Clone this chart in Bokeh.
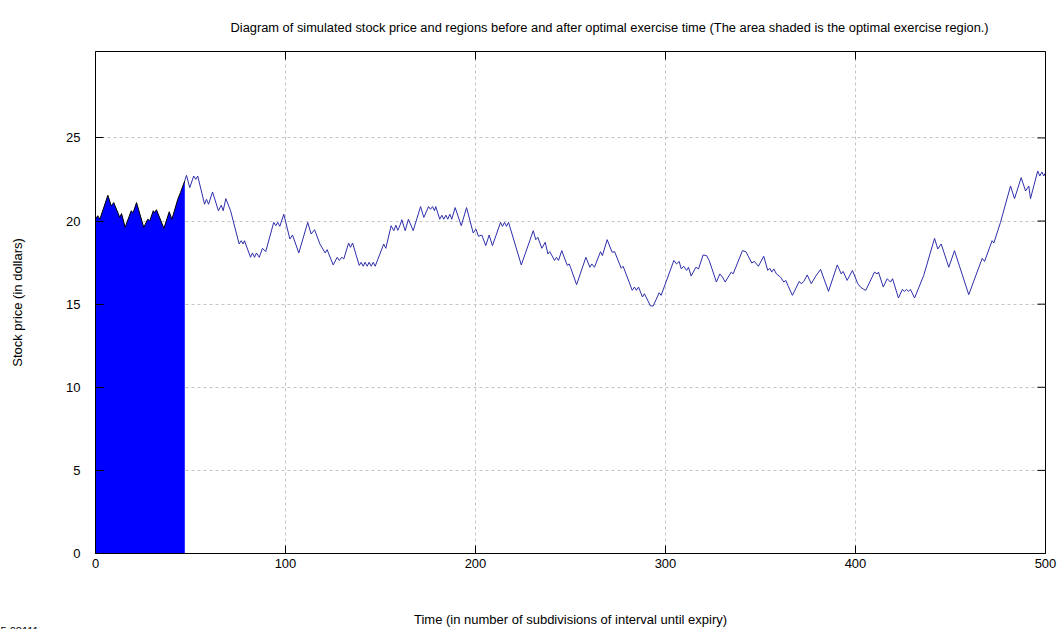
from math import pi

from bokeh.plotting import figure
from bokeh.models import FixedTicker, Range1d, Title
from bokeh.embed import file_html
from bokeh.resources import INLINE

# Simulated stock price path (time in subdivisions, price in dollars).
# Portion up to the optimal exercise time (shaded region).
exercise_t = [0, 1.2, 2.3, 6.5, 8.3, 9.6, 12.8, 13.7, 14.4, 15.6, 18.8, 19.8, 21.6,
              25.4, 27.5, 28.6, 30.4, 31.1, 32.1, 36.0, 38.8, 40.2, 43.3, 44.7, 47.0]
exercise_price = [20.11, 20.32, 20.11, 21.55, 20.91, 21.11, 20.22, 20.45, 20.16, 19.62,
                  20.62, 20.50, 21.11, 19.62, 20.11, 20.02, 20.62, 20.51, 20.68, 19.56,
                  20.56, 20.11, 21.31, 21.71, 22.43]

# Portion after the optimal exercise time.
path_t = [47.0, 47.9, 49.6, 51.7, 52.8, 53.8, 57.4, 58.4, 59.5, 61.6, 64.7, 66.2, 67.2,
          68.6, 71.1, 75.6, 76.7, 77.7, 78.4, 81.6, 82.6, 83.7, 84.7, 86.2, 87.9, 89.6,
          93.8, 94.9, 95.9, 97.0, 99.1, 102.3, 103.7, 107.0, 111.7, 113.5, 115.3, 118.1,
          120.9, 121.9, 125.1, 127.2, 128.3, 129.6, 130.7, 133.2, 134.2, 135.3, 138.8,
          139.8, 140.9, 141.9, 143.0, 144.0, 145.1, 146.2, 147.2, 151.7, 152.8, 155.6,
          157.0, 158.1, 159.1, 160.5, 161.2, 163.0, 164.7, 167.2, 171.1, 172.8, 175.3,
          176.3, 177.4, 178.4, 179.1, 181.2, 182.3, 183.3, 184.4, 185.4, 186.5, 187.5,
          189.3, 192.5, 195.3, 198.8, 200.2, 201.6, 203.3, 205.4, 207.2, 208.9, 213.2,
          214.2, 215.3, 216.3, 217.4, 224.1, 230.4, 231.7, 232.8, 234.9, 236.7, 238.1,
          239.1, 241.6, 242.6, 243.7, 245.4, 248.3, 249.3, 250.0, 253.2, 258.1, 260.2,
          261.2, 262.6, 265.8, 266.8, 269.3, 271.9, 273.2, 276.7, 277.7, 282.5, 283.7,
          284.7, 285.8, 287.9, 288.9, 292.1, 293.5, 296.7, 297.7, 304.4, 305.8, 307.2,
          308.3, 309.6, 311.1, 312.1, 313.5, 316.0, 317.4, 319.8, 321.6, 323.0, 326.8,
          328.6, 330.0, 331.4, 334.6, 335.6, 340.5, 342.3, 345.4, 346.8, 348.9, 351.7,
          353.8, 354.9, 355.9, 357.0, 358.4, 360.5, 362.3, 363.3, 364.4, 366.8, 370.4,
          371.4, 372.8, 374.6, 376.7, 379.1, 381.6, 385.8, 390.4, 392.5, 393.5, 395.6,
          398.4, 401.2, 402.6, 404.4, 405.4, 410.0, 411.4, 412.1, 414.6, 416.7, 418.4,
          419.5, 422.6, 424.7, 425.8, 426.8, 427.9, 428.9, 431.1, 435.9, 441.6, 443.3,
          445.1, 449.1, 452.1, 459.6, 466.7, 467.9, 471.9, 472.8, 476.3, 481.6, 483.7,
          487.2, 489.5, 491.2, 492.1, 495.9, 497.0, 498.1, 499.1, 500.0]
path_price = [22.43, 22.75, 22.01, 22.71, 22.51, 22.71, 21.01, 21.31, 21.01, 21.75, 20.62,
              20.95, 20.62, 21.35, 20.62, 18.62, 18.82, 18.62, 18.82, 17.82, 18.08, 17.82,
              18.08, 17.82, 18.36, 18.16, 19.92, 19.72, 19.92, 19.68, 20.41, 18.92, 19.16,
              18.08, 19.92, 19.22, 19.48, 18.62, 18.08, 18.28, 17.36, 17.82, 17.63, 17.82,
              17.72, 18.68, 18.42, 18.68, 17.33, 17.52, 17.28, 17.52, 17.28, 17.52, 17.28,
              17.52, 17.28, 18.62, 18.36, 19.72, 19.42, 19.75, 19.44, 19.81, 20.08, 19.42,
              20.11, 19.42, 20.87, 20.22, 20.87, 20.71, 20.87, 20.62, 20.87, 20.11, 20.35,
              20.11, 20.35, 20.11, 20.41, 20.11, 20.81, 19.72, 20.81, 19.28, 19.52, 19.08,
              19.16, 18.52, 19.16, 18.52, 19.92, 19.68, 19.92, 19.68, 19.92, 17.36, 19.42,
              18.88, 19.02, 18.36, 18.72, 18.02, 18.16, 17.63, 17.82, 17.63, 18.22, 17.33,
              17.42, 17.22, 16.17, 17.82, 17.22, 17.42, 17.22, 18.16, 17.92, 18.88, 18.12,
              18.16, 17.16, 17.28, 15.83, 16.03, 15.83, 16.03, 15.43, 15.63, 14.89, 14.89,
              15.69, 15.53, 17.63, 17.42, 17.57, 17.12, 17.28, 17.03, 17.22, 16.69, 17.22,
              17.12, 17.96, 17.92, 17.63, 16.33, 16.82, 16.63, 16.33, 16.93, 16.82, 18.22,
              18.16, 17.48, 17.57, 17.28, 17.88, 17.03, 17.16, 16.93, 17.12, 16.82, 16.63,
              16.33, 16.43, 16.13, 15.53, 16.37, 16.23, 16.37, 16.76, 16.23, 16.69, 17.09,
              15.77, 17.36, 16.82, 16.97, 16.43, 17.03, 16.23, 16.03, 15.89, 15.83, 16.93,
              16.82, 16.93, 16.03, 16.53, 16.33, 16.53, 15.37, 15.89, 15.77, 15.89, 15.77,
              15.89, 15.37, 16.73, 18.96, 18.32, 18.62, 17.22, 18.22, 15.57, 17.76, 17.57,
              18.82, 18.68, 19.92, 22.11, 21.35, 22.61, 21.81, 22.11, 21.35, 23.01, 22.71,
              22.95, 22.71, 22.91]

x_ticks = [0, 100, 200, 300, 400, 500]
y_ticks = [0, 5, 10, 15, 20, 25]
x_max = 500
y_max = 30.2

FONT = "Liberation Sans"

p = figure(width=1061, height=629, output_backend="svg", toolbar_location=None,
           x_range=Range1d(0, x_max), y_range=Range1d(0, y_max),
           min_border_left=95, min_border_right=16, min_border_top=48,
           min_border_bottom=76)

p.title.text = ("Diagram of simulated stock price and regions before and after optimal "
                "exercise time (The area shaded is the optimal exercise region.)")
p.title.align = "left"
p.title.offset = 135
p.title.text_font = FONT
p.title.text_font_size = "12.85px"
p.title.text_font_style = "normal"
p.title.text_color = "black"
p.title.standoff = 34

p.outline_line_color = "black"
p.outline_line_width = 1
p.background_fill_color = "white"
p.border_fill_color = "white"

for g, ticks in ((p.xgrid[0], x_ticks[1:-1]), (p.ygrid[0], y_ticks[1:])):
    g.ticker = FixedTicker(ticks=ticks)
    g.grid_line_color = "#c4c4c4"
    g.grid_line_dash = "3 3"
    g.grid_line_width = 1

# Shaded optimal exercise region, outlined along the price path
p.varea(x=exercise_t, y1=[0] * len(exercise_t), y2=exercise_price, fill_color="#0000ff")
p.line(exercise_t, exercise_price, line_color="black", line_width=1)

# Remaining price path
p.line(path_t, path_price, line_color="#2e2eab", line_width=1)

for ax in (p.xaxis[0], p.yaxis[0]):
    ax.axis_line_color = "black"
    ax.major_tick_in = 8
    ax.major_tick_out = 0
    ax.minor_tick_in = 0
    ax.minor_tick_out = 0
    ax.major_tick_line_color = "black"
    ax.major_label_text_font = FONT
    ax.major_label_text_font_size = "13px"
    ax.major_label_text_color = "black"
    ax.axis_label_text_font = FONT
    ax.axis_label_text_font_size = "13px"
    ax.axis_label_text_font_style = "normal"
    ax.axis_label_text_color = "black"

p.xaxis[0].ticker = FixedTicker(ticks=x_ticks)
p.yaxis[0].ticker = FixedTicker(ticks=y_ticks)
p.xaxis[0].axis_label = "Time (in number of subdivisions of interval until expiry)"
p.yaxis[0].axis_label = "Stock price (in dollars)"
p.xaxis[0].major_label_standoff = 5
p.xaxis[0].axis_label_standoff = 41
p.yaxis[0].major_label_standoff = 15
p.yaxis[0].axis_label_standoff = 38

# Mirrored inward ticks on the top and right borders (the outer half is clipped by the frame)
p.scatter(x=x_ticks, y=[y_max] * len(x_ticks), marker="dash", angle=pi / 2, size=16,
          line_color="black", line_width=1)
p.scatter(x=[x_max] * len(y_ticks), y=y_ticks, marker="dash", size=16,
          line_color="black", line_width=1)

# Cursor readout in the bottom-left corner
readout = Title(text="5.08111", align="left", offset=-95, standoff=-11,
                text_font=FONT, text_font_size="11px", text_font_style="normal",
                text_color="black")
p.add_layout(readout, "below")

open("out.html", "w").write(file_html(p, INLINE))
